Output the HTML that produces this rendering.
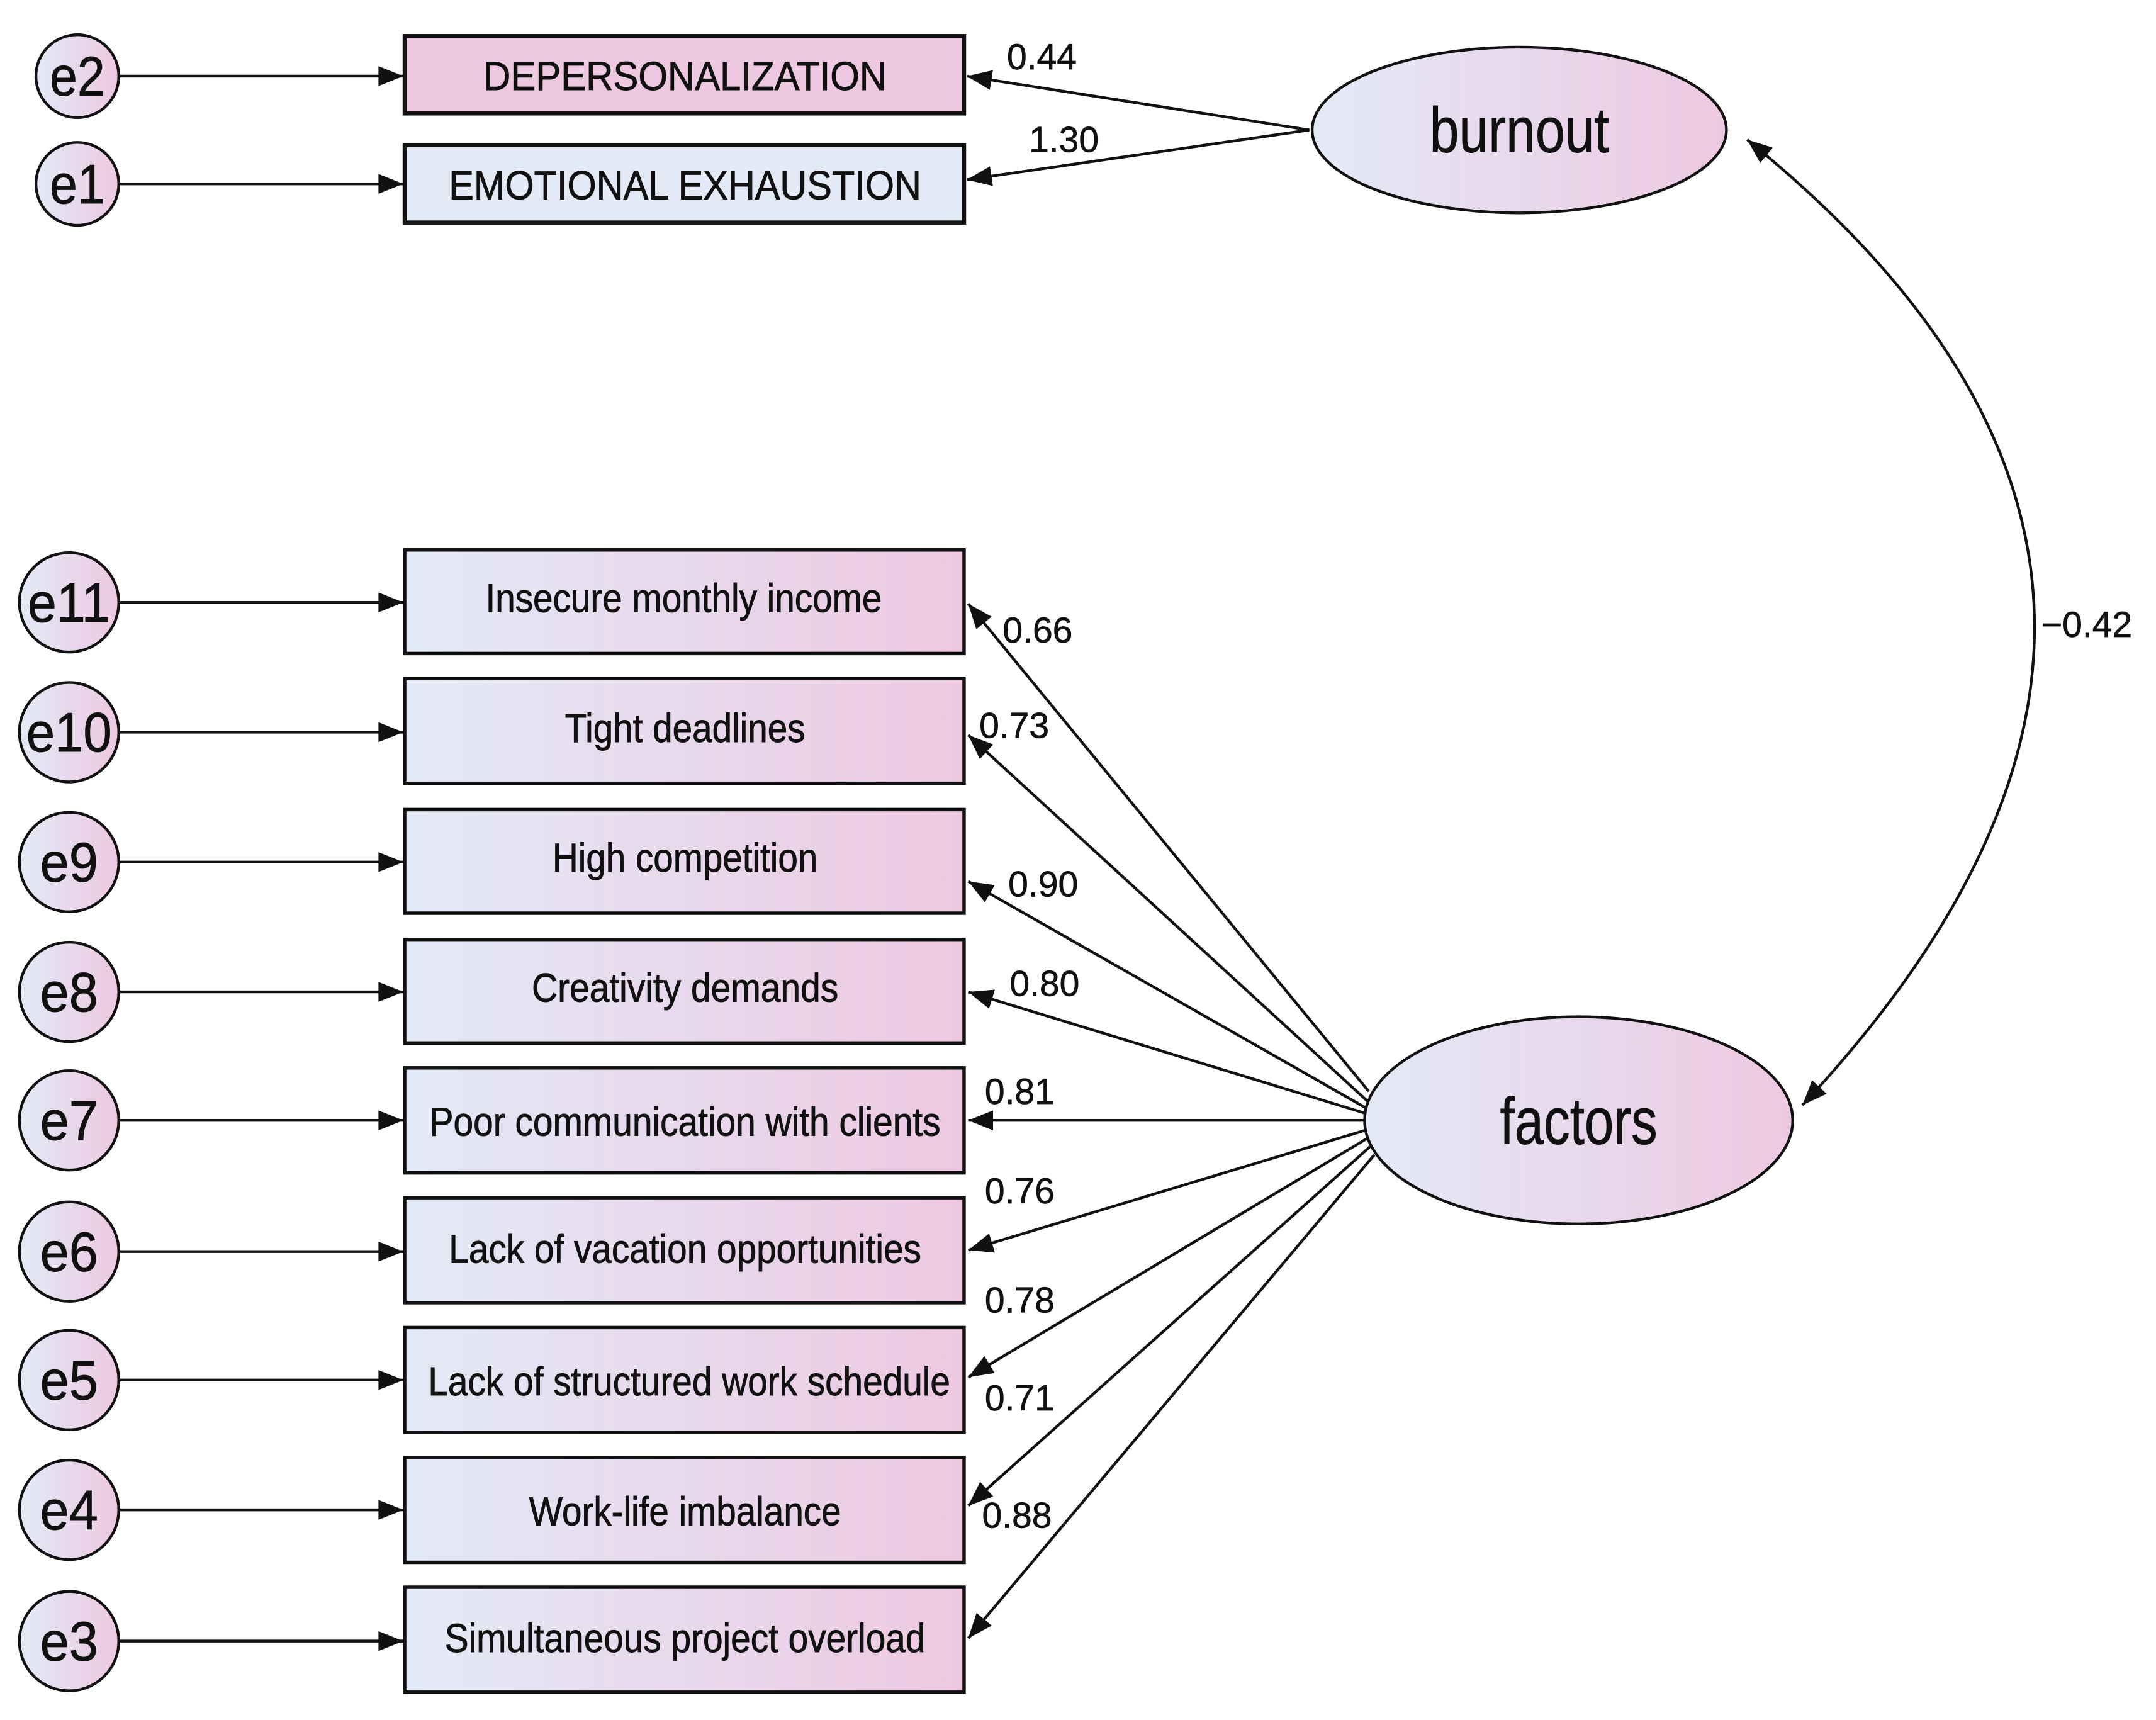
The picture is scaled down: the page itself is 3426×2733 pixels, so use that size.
<!DOCTYPE html>
<html><head><meta charset="utf-8"><style>html,body{margin:0;padding:0;background:#fff}svg{display:block}</style></head>
<body>
<svg xmlns="http://www.w3.org/2000/svg" width="3426" height="2733" viewBox="0 0 1561 1245" font-family="'Liberation Sans', sans-serif">
<defs>
<linearGradient id="g" x1="0" x2="1" y1="0" y2="0"><stop offset="0" stop-color="#e3eaf6"/><stop offset="1" stop-color="#edc8e1"/></linearGradient>
<marker id="b" viewBox="0 0 10 10" refX="10" refY="5" markerWidth="26" markerHeight="18" markerUnits="userSpaceOnUse" orient="auto-start-reverse"><path d="M0,1 L10,5 L0,9 z" fill="#111"/></marker>
</defs>
<rect width="1561" height="1245" fill="#fff"/>
<g stroke="#111" stroke-width="2" fill="none">
<circle cx="56" cy="55" r="30" fill="url(#g)"/>
<circle cx="56" cy="133" r="30" fill="url(#g)"/>
<line x1="86" y1="55" x2="292" y2="55" marker-end="url(#b)"/>
<line x1="86" y1="133" x2="292" y2="133" marker-end="url(#b)"/>
<rect x="293" y="26" width="405" height="56" fill="#edc8e1" stroke-width="3"/>
<rect x="293" y="105" width="405" height="56" fill="#e3eaf6" stroke-width="3"/>
<ellipse cx="1100" cy="94" rx="150" ry="60" fill="url(#g)"/>
<line x1="948" y1="94" x2="700" y2="55" marker-end="url(#b)"/>
<line x1="948" y1="94" x2="700" y2="130" marker-end="url(#b)"/>
<ellipse cx="1143" cy="811" rx="155" ry="75" fill="url(#g)"/>
<path d="M1265,101 Q1660,420 1305,800" marker-start="url(#b)" marker-end="url(#b)"/>
</g>
<g stroke="#111" stroke-width="2" fill="none">
<g fill="url(#g)">
<circle cx="50" cy="436" r="36"/><circle cx="50" cy="530" r="36"/><circle cx="50" cy="624" r="36"/>
<circle cx="50" cy="718" r="36"/><circle cx="50" cy="811" r="36"/><circle cx="50" cy="906" r="36"/>
<circle cx="50" cy="999" r="36"/><circle cx="50" cy="1093" r="36"/><circle cx="50" cy="1188" r="36"/>
</g>
<g marker-end="url(#b)">
<line x1="86" y1="436" x2="292" y2="436"/><line x1="86" y1="530" x2="292" y2="530"/><line x1="86" y1="624" x2="292" y2="624"/>
<line x1="86" y1="718" x2="292" y2="718"/><line x1="86" y1="811" x2="292" y2="811"/><line x1="86" y1="906" x2="292" y2="906"/>
<line x1="86" y1="999" x2="292" y2="999"/><line x1="86" y1="1093" x2="292" y2="1093"/><line x1="86" y1="1188" x2="292" y2="1188"/>
</g>
<g fill="url(#g)" stroke-width="2.5">
<rect x="293" y="398" width="405" height="75"/><rect x="293" y="491" width="405" height="76"/><rect x="293" y="586" width="405" height="75"/>
<rect x="293" y="680" width="405" height="75"/><rect x="293" y="773" width="405" height="76"/><rect x="293" y="867" width="405" height="76"/>
<rect x="293" y="961" width="405" height="76"/><rect x="293" y="1055" width="405" height="76"/><rect x="293" y="1149" width="405" height="76"/>
</g>
<g marker-end="url(#b)">
<line x1="991" y1="790" x2="701" y2="437"/>
<line x1="990" y1="797" x2="701" y2="532"/>
<line x1="989" y1="802" x2="701" y2="638"/>
<line x1="989" y1="806" x2="701" y2="718"/>
<line x1="989" y1="811" x2="701" y2="811"/>
<line x1="989" y1="818" x2="701" y2="905"/>
<line x1="990" y1="824" x2="701" y2="997"/>
<line x1="992" y1="830" x2="701" y2="1090"/>
<line x1="995" y1="836" x2="701" y2="1186"/>
</g>
</g>
<g fill="#111" stroke="#111" stroke-width="0.4" text-anchor="middle">
<g font-size="40">
<text x="56" y="69" textLength="40" lengthAdjust="spacingAndGlyphs">e2</text>
<text x="56" y="147" textLength="40" lengthAdjust="spacingAndGlyphs">e1</text>
<text x="50" y="450" textLength="60" lengthAdjust="spacingAndGlyphs">e11</text>
<text x="50" y="544" textLength="62" lengthAdjust="spacingAndGlyphs">e10</text>
<text x="50" y="638" textLength="42" lengthAdjust="spacingAndGlyphs">e9</text>
<text x="50" y="732" textLength="42" lengthAdjust="spacingAndGlyphs">e8</text>
<text x="50" y="825" textLength="42" lengthAdjust="spacingAndGlyphs">e7</text>
<text x="50" y="920" textLength="42" lengthAdjust="spacingAndGlyphs">e6</text>
<text x="50" y="1013" textLength="42" lengthAdjust="spacingAndGlyphs">e5</text>
<text x="50" y="1107" textLength="42" lengthAdjust="spacingAndGlyphs">e4</text>
<text x="50" y="1202" textLength="42" lengthAdjust="spacingAndGlyphs">e3</text>
</g>
<g font-size="29">
<text x="496" y="65" textLength="292" lengthAdjust="spacingAndGlyphs">DEPERSONALIZATION</text>
<text x="496" y="144" textLength="342" lengthAdjust="spacingAndGlyphs">EMOTIONAL EXHAUSTION</text>
<text x="495" y="443" textLength="287" lengthAdjust="spacingAndGlyphs">Insecure monthly income</text>
<text x="496" y="537" textLength="174" lengthAdjust="spacingAndGlyphs">Tight deadlines</text>
<text x="496" y="631" textLength="192" lengthAdjust="spacingAndGlyphs">High competition</text>
<text x="496" y="725" textLength="222" lengthAdjust="spacingAndGlyphs">Creativity demands</text>
<text x="496" y="822" textLength="370" lengthAdjust="spacingAndGlyphs">Poor communication with clients</text>
<text x="496" y="914" textLength="342" lengthAdjust="spacingAndGlyphs">Lack of vacation opportunities</text>
<text x="499" y="1010" textLength="378" lengthAdjust="spacingAndGlyphs">Lack of structured work schedule</text>
<text x="496" y="1104" textLength="226" lengthAdjust="spacingAndGlyphs">Work-life imbalance</text>
<text x="496" y="1196" textLength="348" lengthAdjust="spacingAndGlyphs">Simultaneous project overload</text>
</g>
<text x="1100" y="110" font-size="46" textLength="130" lengthAdjust="spacingAndGlyphs">burnout</text>
<text x="1143" y="828" font-size="48" textLength="114" lengthAdjust="spacingAndGlyphs">factors</text>
</g>
<g fill="#111" stroke="#111" stroke-width="0.3" font-size="26">
<text x="729" y="50">0.44</text>
<text x="745" y="110">1.30</text>
<text x="1478" y="461">−0.42</text>
<text x="726" y="465">0.66</text>
<text x="709" y="534">0.73</text>
<text x="730" y="649">0.90</text>
<text x="731" y="721">0.80</text>
<text x="713" y="799">0.81</text>
<text x="713" y="871">0.76</text>
<text x="713" y="950">0.78</text>
<text x="713" y="1021">0.71</text>
<text x="711" y="1106">0.88</text>
</g>
</svg>
</body></html>
